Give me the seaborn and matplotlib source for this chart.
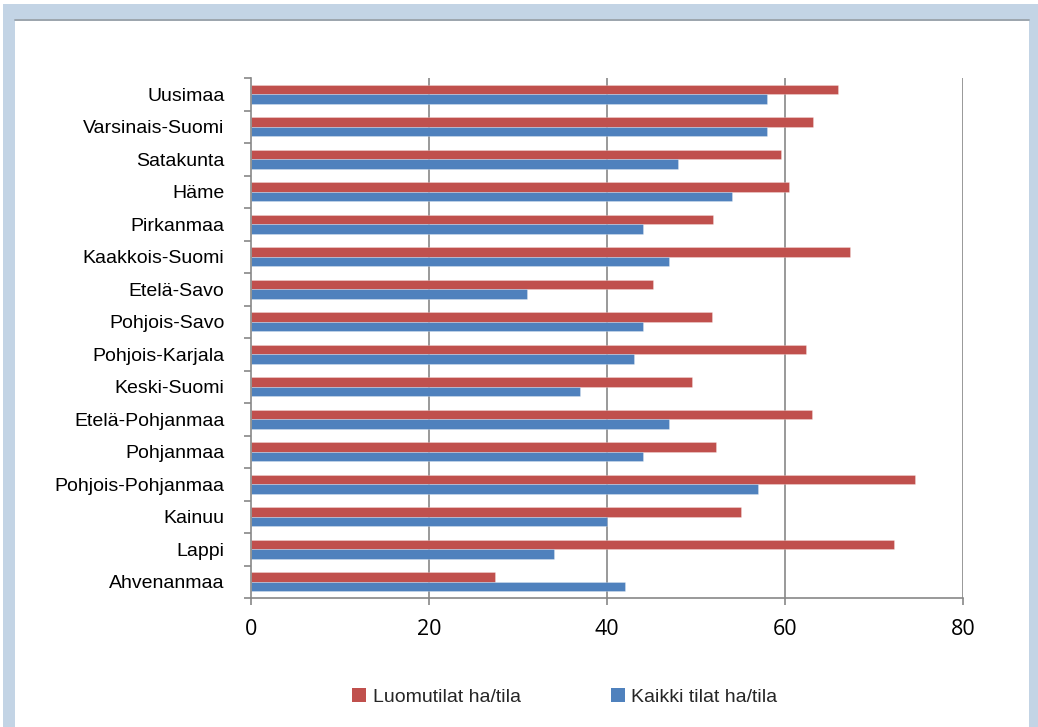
import matplotlib
matplotlib.use("Agg")
import matplotlib.pyplot as plt
from matplotlib.patches import Rectangle, Patch
from matplotlib.lines import Line2D
import seaborn as sns
import pandas as pd
import numpy as np

regions = ["Uusimaa", "Varsinais-Suomi", "Satakunta", "Häme", "Pirkanmaa",
           "Kaakkois-Suomi", "Etelä-Savo", "Pohjois-Savo", "Pohjois-Karjala",
           "Keski-Suomi", "Etelä-Pohjanmaa", "Pohjanmaa", "Pohjois-Pohjanmaa",
           "Kainuu", "Lappi", "Ahvenanmaa"]
luomutilat = [65.9, 63.2, 59.5, 60.4, 51.9, 67.3, 45.2, 51.8, 62.4, 49.5,
              63.0, 52.2, 74.6, 55.1, 72.3, 27.4]
kaikki_tilat = [58.0, 58.0, 48.0, 54.0, 44.0, 47.0, 31.0, 44.0, 43.0, 37.0,
                47.0, 44.0, 57.0, 40.0, 34.0, 42.0]
series_names = ["Luomutilat ha/tila", "Kaikki tilat ha/tila"]
x_ticks = [0, 20, 40, 60, 80]

df = pd.DataFrame({
    "region": regions * 2,
    "series": [series_names[0]] * len(regions) + [series_names[1]] * len(regions),
    "value": luomutilat + kaikki_tilat,
})

sns.set_style("white")
plt.rcParams["font.family"] = ["Liberation Sans", "DejaVu Sans"]

W, H = 1038, 727
fig = plt.figure(figsize=(W / 100, H / 100), dpi=100)
fig.patch.set_facecolor("white")

# frame decorations
lb = "#c3d4e5"
fig.add_artist(Rectangle((3 / W, 0), 12 / W, (H - 4) / H, transform=fig.transFigure,
                         facecolor=lb, edgecolor="none", zorder=0))
fig.add_artist(Rectangle((3 / W, (H - 19) / H), (1038 - 3) / W, 15 / H, transform=fig.transFigure,
                         facecolor=lb, edgecolor="none", zorder=0))
fig.add_artist(Rectangle((1029 / W, 0), 9 / W, (H - 4) / H, transform=fig.transFigure,
                         facecolor=lb, edgecolor="none", zorder=0))
fig.add_artist(Line2D([15 / W, 1029 / W], [(H - 19.5) / H, (H - 19.5) / H], transform=fig.transFigure,
                      color="#8a959e", lw=1.2, zorder=1))

ax = fig.add_axes([251 / W, (H - 598) / H, 712 / W, 520 / H])
palette = {series_names[0]: "#c0504d", series_names[1]: "#4f81bd"}
sns.barplot(data=df, y="region", x="value", hue="series", orient="h",
            palette=palette, width=0.57, ax=ax, saturation=1,
            edgecolor=(1, 1, 1, 0.45), linewidth=0.4, errorbar=None)

ax.set_xlim(0, 80)
ax.set_ylim(15.5, -0.5)
ax.set_xticks(x_ticks)
ax.set_xticklabels([str(t) for t in x_ticks], family=["Open Sans", "DejaVu Sans"], fontsize=15.5)
ax.set_xlabel("")
ax.set_ylabel("")
grid_c = "#878787"
for t in x_ticks[1:]:
    ax.axvline(t, color=grid_c, lw=1.2, zorder=0)
for s in ["top", "right"]:
    ax.spines[s].set_visible(False)
for s in ["left", "bottom"]:
    ax.spines[s].set_color(grid_c)
    ax.spines[s].set_linewidth(1.2)
ax.tick_params(axis="x", direction="out", length=5, width=1.2, color=grid_c, pad=10,
               labelcolor="black", bottom=True)
ax.tick_params(axis="y", which="major", length=0, pad=19, labelsize=14, labelcolor="black")
ax.set_yticks(np.arange(-0.5, 16, 1), minor=True)
ax.tick_params(axis="y", which="minor", direction="out", length=5, width=1.2, color=grid_c, left=True)

if ax.legend_ is not None:
    ax.legend_.remove()
hs = [Patch(facecolor=palette[n], edgecolor="none") for n in series_names]
fig.legend(hs, series_names, loc="center", bbox_to_anchor=(565 / W, 30 / H), ncol=2,
           frameon=False, fontsize=14, handlelength=0.72, handleheight=0.72,
           handletextpad=0.35, columnspacing=4.6)

fig.savefig("out.png", dpi=100)
